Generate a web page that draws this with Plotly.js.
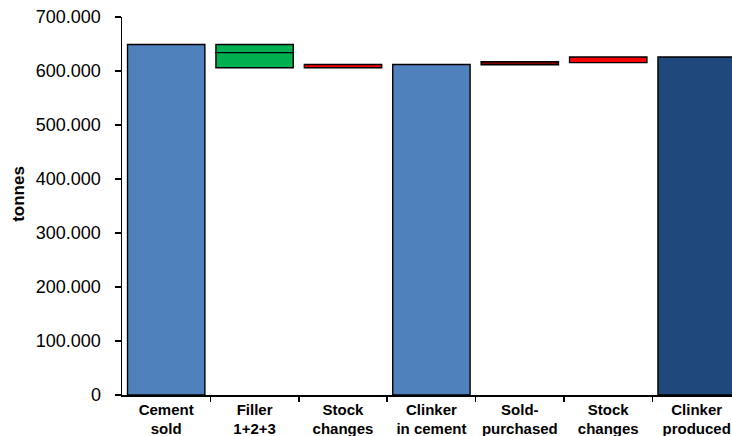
<!DOCTYPE html>
<html>
<head>
<meta charset="utf-8">
<script src="https://cdn.plot.ly/plotly-3.0.1.min.js"></script>
<style>html,body{margin:0;padding:0;overflow:hidden;background:#fff;}</style>
</head>
<body>
<div id="chart" style="width:732px;height:436px;"></div>
<script>
// Category (tick) labels
const categories = ["Cement<br>sold", "Filler<br>1+2+3", "Stock<br>changes", "Clinker<br>in cement", "Sold-<br>purchased", "Stock<br>changes", "Clinker<br>produced"];
const categoryIndex = [0, 1, 2, 3, 4, 5, 6];

// Bar segments (tonnes): category index, bottom and top of each segment
const segmentNames = ["Cement sold", "Filler 1", "Filler 2+3", "Stock changes", "Clinker in cement", "Sold-purchased", "Stock changes", "Clinker produced"];
const segmentCategory = [0, 1, 1, 2, 3, 4, 5, 6];
const segmentBottom = [0, 634000, 606000, 606000, 0, 611500, 615500, 0];
const segmentTop = [649000, 649000, 634000, 612000, 612000, 617000, 626000, 626000];

// Y axis ticks
const yTicks = [0, 100000, 200000, 300000, 400000, 500000, 600000, 700000];

// Styles
const segmentColors = ["#4F81BD", "#00B050", "#00B050", "#FF0000", "#4F81BD", "#7F0000", "#FF0000", "#1F497D"];

const trace = {
  type: "bar",
  x: segmentCategory,
  base: segmentBottom,
  y: segmentTop.map((t, i) => t - segmentBottom[i]),
  text: segmentNames,
  hoverinfo: "text+y",
  textposition: "none",
  width: 0.875,
  marker: { color: segmentColors, line: { color: "#000000", width: 1.4 } },
  showlegend: false
};

const font = "Liberation Sans, Arial, sans-serif";

const layout = {
  width: 732,
  height: 436,
  margin: { l: 122, r: 0, t: 17, b: 41 },
  paper_bgcolor: "#ffffff",
  plot_bgcolor: "#ffffff",
  barmode: "overlay",
  separators: ",.",
  showlegend: false,
  xaxis: {
    range: [-0.5, 6.4],
    tickmode: "array",
    tickvals: categoryIndex,
    ticktext: categories,
    ticks: "",
    showgrid: false,
    zeroline: false,
    showline: true,
    linecolor: "#000000",
    linewidth: 1.5,
    tickfont: { family: font, size: 15, color: "#000000", weight: "bold" },
    minor: {
      tickmode: "array",
      tickvals: [0.5, 1.5, 2.5, 3.5, 4.5, 5.5],
      ticks: "outside",
      ticklen: 5,
      tickwidth: 1.5,
      tickcolor: "#000000",
      showgrid: false
    },
    fixedrange: true
  },
  yaxis: {
    range: [0, 700000],
    tickmode: "array",
    tickvals: yTicks,
    tickformat: ",d",
    ticks: "outside",
    ticklen: 6,
    tickwidth: 1.5,
    tickcolor: "#000000",
    ticklabelstandoff: 10,
    showgrid: false,
    zeroline: false,
    showline: true,
    linecolor: "#000000",
    linewidth: 1.5,
    tickfont: { family: font, size: 18, color: "#000000" },
    fixedrange: true
  },
  annotations: [{
    text: "tonnes",
    textangle: -90,
    xref: "paper",
    yref: "paper",
    x: -0.169,
    y: 0.532,
    xanchor: "center",
    yanchor: "middle",
    showarrow: false,
    font: { family: font, size: 17, color: "#000000", weight: "bold" }
  }]
};

Plotly.newPlot("chart", [trace], layout, { displayModeBar: false, staticPlot: true });
</script>
</body>
</html>
